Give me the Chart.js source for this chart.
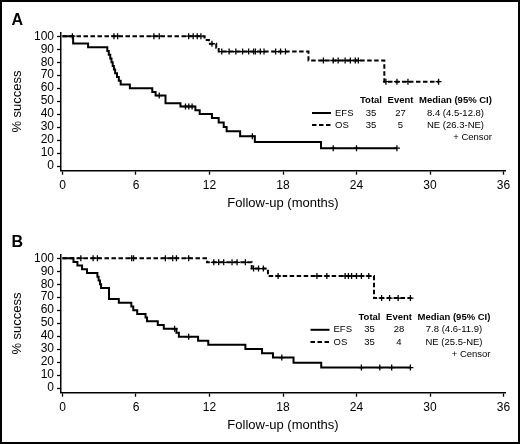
<!DOCTYPE html>
<html>
<head>
<meta charset="utf-8">
<script src="https://cdn.jsdelivr.net/npm/chart.js@4.4.1/dist/chart.umd.min.js"></script>
<style>
  html, body { margin: 0; padding: 0; background: #fff; }
  #wrap { position: relative; width: 520px; height: 444px; overflow: hidden; background: #fff; }
  #wrap canvas { position: absolute; left: 0; }
  #frame { position: absolute; left: 0; top: 0; width: 520px; height: 444px; box-sizing: border-box; border: 2px solid #000; pointer-events: none; }
</style>
</head>
<body>
<div id="wrap">
  <canvas id="chartA" width="520" height="222" style="top:0"></canvas>
  <canvas id="chartB" width="520" height="222" style="top:222px"></canvas>
  <div id="frame"></div>
</div>
<script>
// axes
const xTicks = [0, 6, 12, 18, 24, 30, 36];
const yTicks = [0, 10, 20, 30, 40, 50, 60, 70, 80, 90, 100];

// panel A - EFS (step times in months, % success after each step)
const aEfsTime = [0, 0.87, 2.09, 3.66, 3.78, 3.9, 4.0, 4.1, 4.2, 4.3, 4.45, 4.6, 4.75, 5.5, 7.33, 7.6, 8.41, 9.63, 10.85, 11.2, 12.2, 12.75, 13.16, 13.4, 14.5, 15.7, 21.1];
const aEfsSurv = [100, 94.3, 91.4, 88.6, 85.7, 82.9, 80.0, 77.1, 74.3, 71.4, 68.6, 65.7, 62.9, 60.0, 57.1, 54.3, 48.4, 45.9, 43.1, 40.2, 37.0, 33.6, 30.2, 26.8, 23.0, 18.5, 13.8];
const aEfsCensor = [7.9, 10.04, 10.31, 10.58, 15.5, 22.1, 24.0, 27.3];
const aEfsEnd = 27.3;

// panel A - OS
const aOsTime = [0, 11.6, 11.95, 12.55, 12.75, 20.08, 26.27];
const aOsSurv = [100, 97.1, 94.2, 91.2, 88.2, 81.3, 65.0];
const aOsCensor = [0.81, 4.2, 4.5, 7.46, 7.9, 10.3, 10.67, 11.0, 11.3, 12.2, 13.0, 13.6, 14.15, 14.7, 15.2, 15.6, 15.75, 16.15, 16.45, 17.4, 17.8, 18.2, 21.3, 22.1, 22.5, 23.07, 23.5, 23.9, 24.15, 26.4, 27.3, 28.2, 30.7];
const aOsEnd = 30.75;

// panel B - EFS
const bEfsTime = [0, 0.9, 1.22, 1.6, 2.0, 2.85, 2.95, 3.06, 3.15, 3.8, 4.6, 5.62, 5.78, 6.1, 6.78, 6.9, 7.78, 8.27, 9.3, 9.5, 11.07, 11.9, 14.93, 16.29, 17.18, 18.86, 21.12];
const bEfsSurv = [100, 97.1, 94.3, 91.4, 88.6, 85.7, 82.9, 80.0, 77.1, 68.6, 65.7, 62.9, 60.0, 57.1, 54.3, 51.4, 48.6, 45.7, 42.6, 39.6, 36.5, 33.4, 30.2, 26.9, 23.5, 19.6, 15.8];
const bEfsCensor = [9.15, 10.3, 17.9, 24.4, 25.9, 26.87, 28.4];
const bEfsEnd = 28.4;

// panel B - OS
const bOsTime = [0, 11.8, 15.45, 16.77, 25.43];
const bOsSurv = [100, 96.8, 92.0, 86.3, 69.3];
const bOsCensor = [1.5, 2.5, 2.85, 5.65, 5.8, 8.4, 9.0, 9.3, 10.3, 12.35, 12.75, 13.16, 13.84, 14.25, 14.93, 15.6, 16.0, 16.4, 17.6, 20.77, 21.58, 23.07, 23.34, 23.6, 24.0, 24.4, 25.0, 26.05, 26.7, 27.4, 28.4];
const bOsEnd = 28.5;

// legend tables
const legendHeader = ['Total', 'Event', 'Median (95% CI)'];
const aRows = [['EFS', '35', '27', '8.4 (4.5-12.8)'], ['OS', '35', '5', 'NE (26.3-NE)']];
const bRows = [['EFS', '35', '28', '7.8 (4.6-11.9)'], ['OS', '35', '4', 'NE (25.5-NE)']];
const censorLabel = '+ Censor';

const FONT = "'Liberation Sans', Arial, Helvetica, sans-serif";
const INK = '#000';
const OS_DASH = [4.5, 2.5];

// value of the step curve at time t
function survAt(times, surv, t) {
    let v = surv[0];
    for (let i = 0; i < times.length; i++) {
        if (times[i] <= t) v = surv[i];
    }
    return v;
}

function curve(times, surv, end) {
    const pts = times.map((t, i) => ({ x: t, y: surv[i] }));
    pts.push({ x: end, y: surv[surv.length - 1] });
    return pts;
}

function marks(times, surv, censor) {
    return censor.map(t => ({ x: t, y: survAt(times, surv, t) }));
}

function buildChart(id, letter, efs, os, rows, lg) {
    const canvas = document.getElementById(id);

    const panelText = {
        id: 'panelText',
        afterDraw(chart) {
            const ctx = chart.ctx;
            ctx.save();
            ctx.fillStyle = INK;
            ctx.font = 'bold 16px ' + FONT;
            ctx.textAlign = 'left';
            ctx.textBaseline = 'alphabetic';
            ctx.fillText(letter, 11.5, 24.5);

            // table legend
            const R = lg.right;
            const cols = [R - 121, R - 91.5, R - 36.5];
            ctx.textBaseline = 'middle';
            ctx.textAlign = 'center';
            ctx.font = 'bold 9.5px ' + FONT;
            legendHeader.forEach((h, i) => ctx.fillText(h, cols[i], lg.y[0]));

            ctx.font = '9.5px ' + FONT;
            rows.forEach((row, r) => {
                const y = lg.y[r + 1];
                ctx.strokeStyle = '#000';
                ctx.lineWidth = 2;
                ctx.setLineDash(r === 0 ? [] : OS_DASH);
                ctx.beginPath();
                ctx.moveTo(R - 180, y);
                ctx.lineTo(R - 161, y);
                ctx.stroke();
                ctx.setLineDash([]);
                ctx.textAlign = 'left';
                ctx.fillText(row[0], R - 157, y);
                ctx.textAlign = 'center';
                ctx.fillText(row[1], cols[0], y);
                ctx.fillText(row[2], cols[1], y);
                ctx.fillText(row[3], cols[2], y);
            });
            ctx.textAlign = 'right';
            ctx.fillText(censorLabel, R, lg.y[3]);
            ctx.restore();
        }
    };

    const axisGrid = {
        drawOnChartArea: false,
        drawTicks: true,
        tickLength: 4,
        tickWidth: 1.3,
        color: '#000'
    };

    return new Chart(canvas, {
        type: 'line',
        data: {
            datasets: [
                {
                    label: 'EFS',
                    data: curve(efs.t, efs.s, efs.end),
                    stepped: true,
                    borderColor: '#000',
                    borderWidth: 2,
                    pointRadius: 0,
                    fill: false
                },
                {
                    label: 'OS',
                    data: curve(os.t, os.s, os.end),
                    stepped: true,
                    borderColor: '#000',
                    borderWidth: 2,
                    borderDash: OS_DASH,
                    pointRadius: 0,
                    fill: false
                },
                {
                    label: 'EFS censor',
                    data: marks(efs.t, efs.s, efs.c),
                    showLine: false,
                    pointStyle: 'cross',
                    pointRadius: 3,
                    pointBorderWidth: 1.3,
                    borderColor: '#000'
                },
                {
                    label: 'OS censor',
                    data: marks(os.t, os.s, os.c),
                    showLine: false,
                    pointStyle: 'cross',
                    pointRadius: 3,
                    pointBorderWidth: 1.3,
                    borderColor: '#000'
                }
            ]
        },
        options: {
            responsive: false,
            animation: false,
            devicePixelRatio: 1,
            layout: { padding: { left: 0, top: 32.3, right: 15, bottom: 0 } },
            plugins: {
                legend: { display: false },
                tooltip: { enabled: false }
            },
            scales: {
                x: {
                    type: 'linear',
                    min: -0.12,
                    max: 36.12,
                    afterBuildTicks: s => { s.ticks = xTicks.map(v => ({ value: v })); },
                    afterFit: s => { s.height = 51.3; },
                    grid: axisGrid,
                    border: { display: true, color: '#000', width: 1.5 },
                    ticks: {
                        color: INK,
                        font: { family: FONT, size: 12 },
                        padding: 4,
                        maxRotation: 0,
                        autoSkip: false
                    },
                    title: {
                        display: true,
                        text: 'Follow-up (months)',
                        color: INK,
                        font: { family: FONT, size: 13 },
                        padding: { top: 0, bottom: 11 }
                    }
                },
                y: {
                    min: -3.5,
                    max: 103,
                    afterBuildTicks: s => { s.ticks = yTicks.map(v => ({ value: v })); },
                    afterFit: s => { s.width = 61; },
                    grid: axisGrid,
                    border: { display: true, color: '#000', width: 1.5 },
                    ticks: {
                        color: INK,
                        font: { family: FONT, size: 12 },
                        padding: 3,
                        autoSkip: false
                    },
                    title: {
                        display: true,
                        text: '% success',
                        color: INK,
                        font: { family: FONT, size: 13 },
                        padding: { top: 10, bottom: 0 }
                    }
                }
            }
        },
        plugins: [panelText]
    });
}

buildChart('chartA', 'A',
    { t: aEfsTime, s: aEfsSurv, c: aEfsCensor, end: aEfsEnd },
    { t: aOsTime, s: aOsSurv, c: aOsCensor, end: aOsEnd },
    aRows,
    { right: 492, y: [100.5, 113, 125, 137.5] });

buildChart('chartB', 'B',
    { t: bEfsTime, s: bEfsSurv, c: bEfsCensor, end: bEfsEnd },
    { t: bOsTime, s: bOsSurv, c: bOsCensor, end: bOsEnd },
    bRows,
    { right: 490.5, y: [95.5, 107.8, 120, 132.5] });
</script>
</body>
</html>
